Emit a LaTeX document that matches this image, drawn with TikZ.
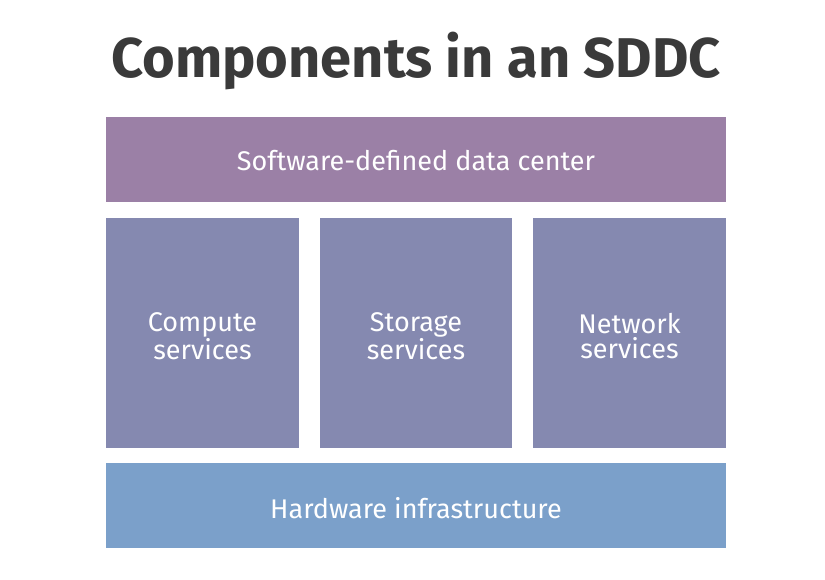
\documentclass[tikz,border=0pt]{standalone}
\usepackage{fontspec}
\setmainfont{Fira Sans}
\definecolor{titlegray}{HTML}{3A3A3A}
\definecolor{sddcpurple}{HTML}{9B80A6}
\definecolor{svcblue}{HTML}{8589B0}
\definecolor{hwblue}{HTML}{7BA0CA}
\begin{document}
\begin{tikzpicture}[x=1pt,y=-1pt,
  box/.style={inner sep=0pt,text=white,font=\fontsize{27}{25}\selectfont,align=center},
  ]
\useasboundingbox[fill=white] (0,0) rectangle (825,579);
\node[font=\fontsize{56}{60}\selectfont\bfseries,text=titlegray] (title) at (416,61) {Components in an SDDC};
\fill[sddcpurple] (106,117) rectangle (726,202);
\node[box] (sddc) at (416,161) {Software-defined data center};
\fill[svcblue] (106,218) rectangle (299,448);
\node[box] (compute) at (202.5,336) {Compute\\services};
\fill[svcblue] (320,218) rectangle (512,448);
\node[box] (storage) at (416,336) {Storage\\services};
\fill[svcblue] (533,218) rectangle (726,448);
\node[box] (network) at (629.5,336) {Network\\services};
\fill[hwblue] (106,463) rectangle (726,548);
\node[box] (hw) at (416,508) {Hardware infrastructure};
\end{tikzpicture}
\end{document}
